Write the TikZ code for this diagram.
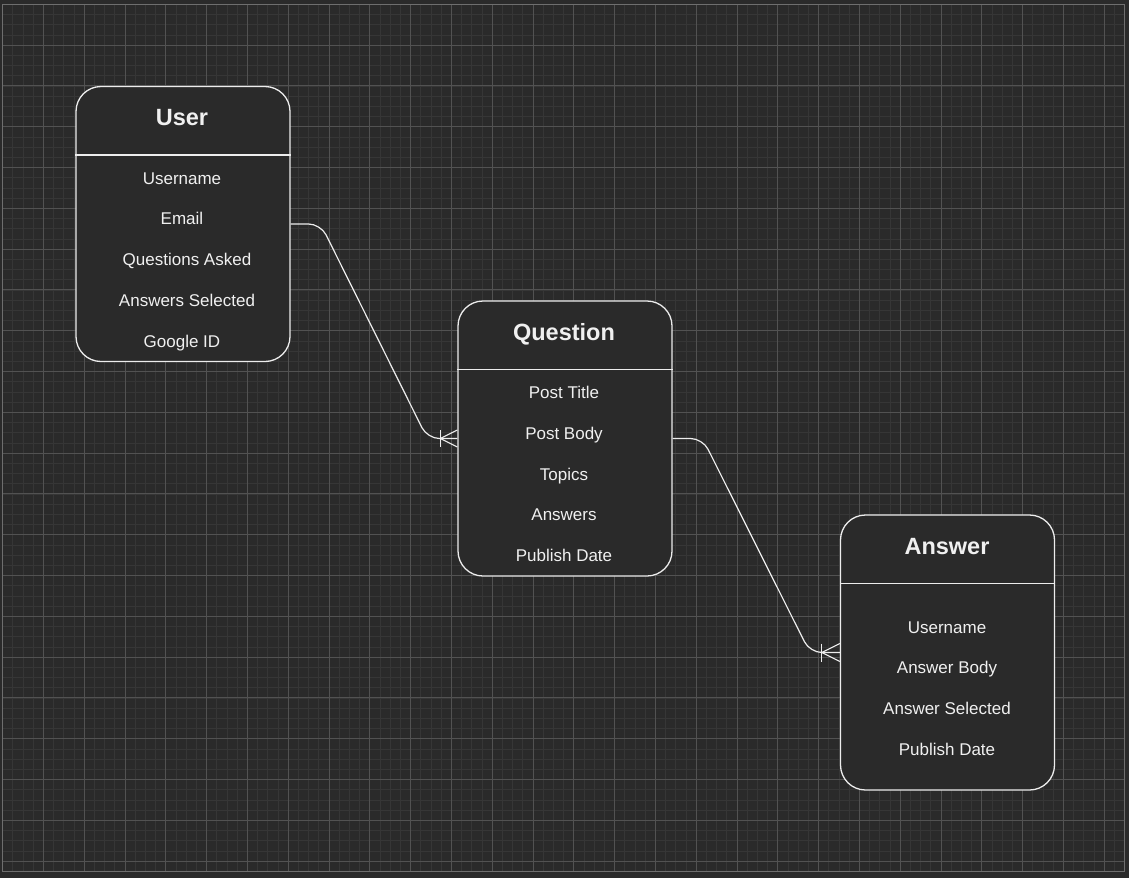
\documentclass[tikz,border=0pt]{standalone}
\usepackage{fontspec}
\setmainfont{Liberation Sans}
\usepackage{xcolor}
\usetikzlibrary{calc}
\definecolor{canvas}{HTML}{2A2A2A}
\definecolor{boxfill}{HTML}{2A2A2A}
\definecolor{minorgrid}{HTML}{363636}
\definecolor{majorgrid}{HTML}{525252}
\definecolor{edgegrid}{HTML}{6E6E6E}
\definecolor{linecol}{HTML}{EDEDED}
\definecolor{txt}{HTML}{F0F0F0}
\tikzset{
    entity/.style={draw=linecol, fill=boxfill, line width=1.3pt, rounded corners=25pt,
                   minimum width=214pt, minimum height=275pt, inner sep=0pt},
    divider/.style={linecol, line width=1.3pt},
    title/.style={anchor=base, text=txt, font=\fontsize{23.5}{28}\selectfont\bfseries},
    field/.style={anchor=base, text=txt, font=\fontsize{17}{20}\selectfont},
    rel/.style={draw=linecol, line width=1.2pt, rounded corners=12pt},
    crow/.style={draw=linecol, line width=1.2pt}
}

\begin{document}
\begin{tikzpicture}[x=1pt, y=-1pt]

  % Canvas and grid
  \useasboundingbox (0,0) rectangle (1129,878);
  \fill[canvas] (0,0) rectangle (1129,878);
  \foreach \i in {0,...,110} \draw[minorgrid, line width=0.6pt] ({2.5+10.2*\i},4.2) -- ({2.5+10.2*\i},871.5);
  \foreach \j in {0,...,85}  \draw[minorgrid, line width=0.6pt] (2.5,{4.2+10.2*\j}) -- (1124.5,{4.2+10.2*\j});
  \foreach \i in {0,...,27}  \draw[majorgrid, line width=0.8pt] ({2.5+40.8*\i},4.2) -- ({2.5+40.8*\i},871.5);
  \foreach \j in {0,...,21}  \draw[majorgrid, line width=0.8pt] (2.5,{4.2+40.8*\j}) -- (1124.5,{4.2+40.8*\j});
  \draw[edgegrid, line width=0.9pt] (2.5,4.2) rectangle (1124.5,871.5);

  % Entities
  \node[entity] (user)     at (183,224)     {};
  \node[entity] (question) at (565,438.5)   {};
  \node[entity] (answer)   at (947.5,652.5) {};

  % Header dividers
  \draw[divider] ($(user.north west)+(0,69)$)     -- ($(user.north east)+(0,69)$);
  \draw[divider] ($(question.north west)+(0,69)$) -- ($(question.north east)+(0,69)$);
  \draw[divider] ($(answer.north west)+(0,69)$)   -- ($(answer.north east)+(0,69)$);

  % User
  \node[title] (usertitle) at (182,125.7) {User};
  \node[field] (u1) at (182,184)    {Username};
  \node[field] (u2) at (182,224.8)  {Email};
  \node[field] (u3) at (187,265.5)  {Questions Asked};
  \node[field] (u4) at (187,306.3)  {Answers Selected};
  \node[field] (u5) at (182,347)    {Google ID};

  % Question
  \node[title] (questiontitle) at (564,340) {Question};
  \node[field] (q1) at (564,398.3) {Post Title};
  \node[field] (q2) at (564,439.3) {Post Body};
  \node[field] (q3) at (564,480)   {Topics};
  \node[field] (q4) at (564,520.5) {Answers};
  \node[field] (q5) at (564,561)   {Publish Date};

  % Answer
  \node[title] (answertitle) at (947,554) {Answer};
  \node[field] (a1) at (947,633.3) {Username};
  \node[field] (a2) at (947,673.5) {Answer Body};
  \node[field] (a3) at (947,714)   {Answer Selected};
  \node[field] (a4) at (947,755)   {Publish Date};

  % Relations (one to many)
  \draw[rel] (user.east) -- ++(30,0) -- ($(question.west)+(-30,0)$) -- (question.west);
  \draw[crow] ($(question.west)+(-17,-8.5)$) -- ($(question.west)+(-17,8.5)$);
  \draw[crow] ($(question.west)+(0,-8.5)$) -- ($(question.west)+(-17,0)$) -- ($(question.west)+(0,8.5)$);

  \draw[rel] (question.east) -- ++(30,0) -- ($(answer.west)+(-30,0)$) -- (answer.west);
  \draw[crow] ($(answer.west)+(-18,-9)$) -- ($(answer.west)+(-18,9)$);
  \draw[crow] ($(answer.west)+(0,-9)$) -- ($(answer.west)+(-18,0)$) -- ($(answer.west)+(0,9)$);

\end{tikzpicture}
\end{document}
